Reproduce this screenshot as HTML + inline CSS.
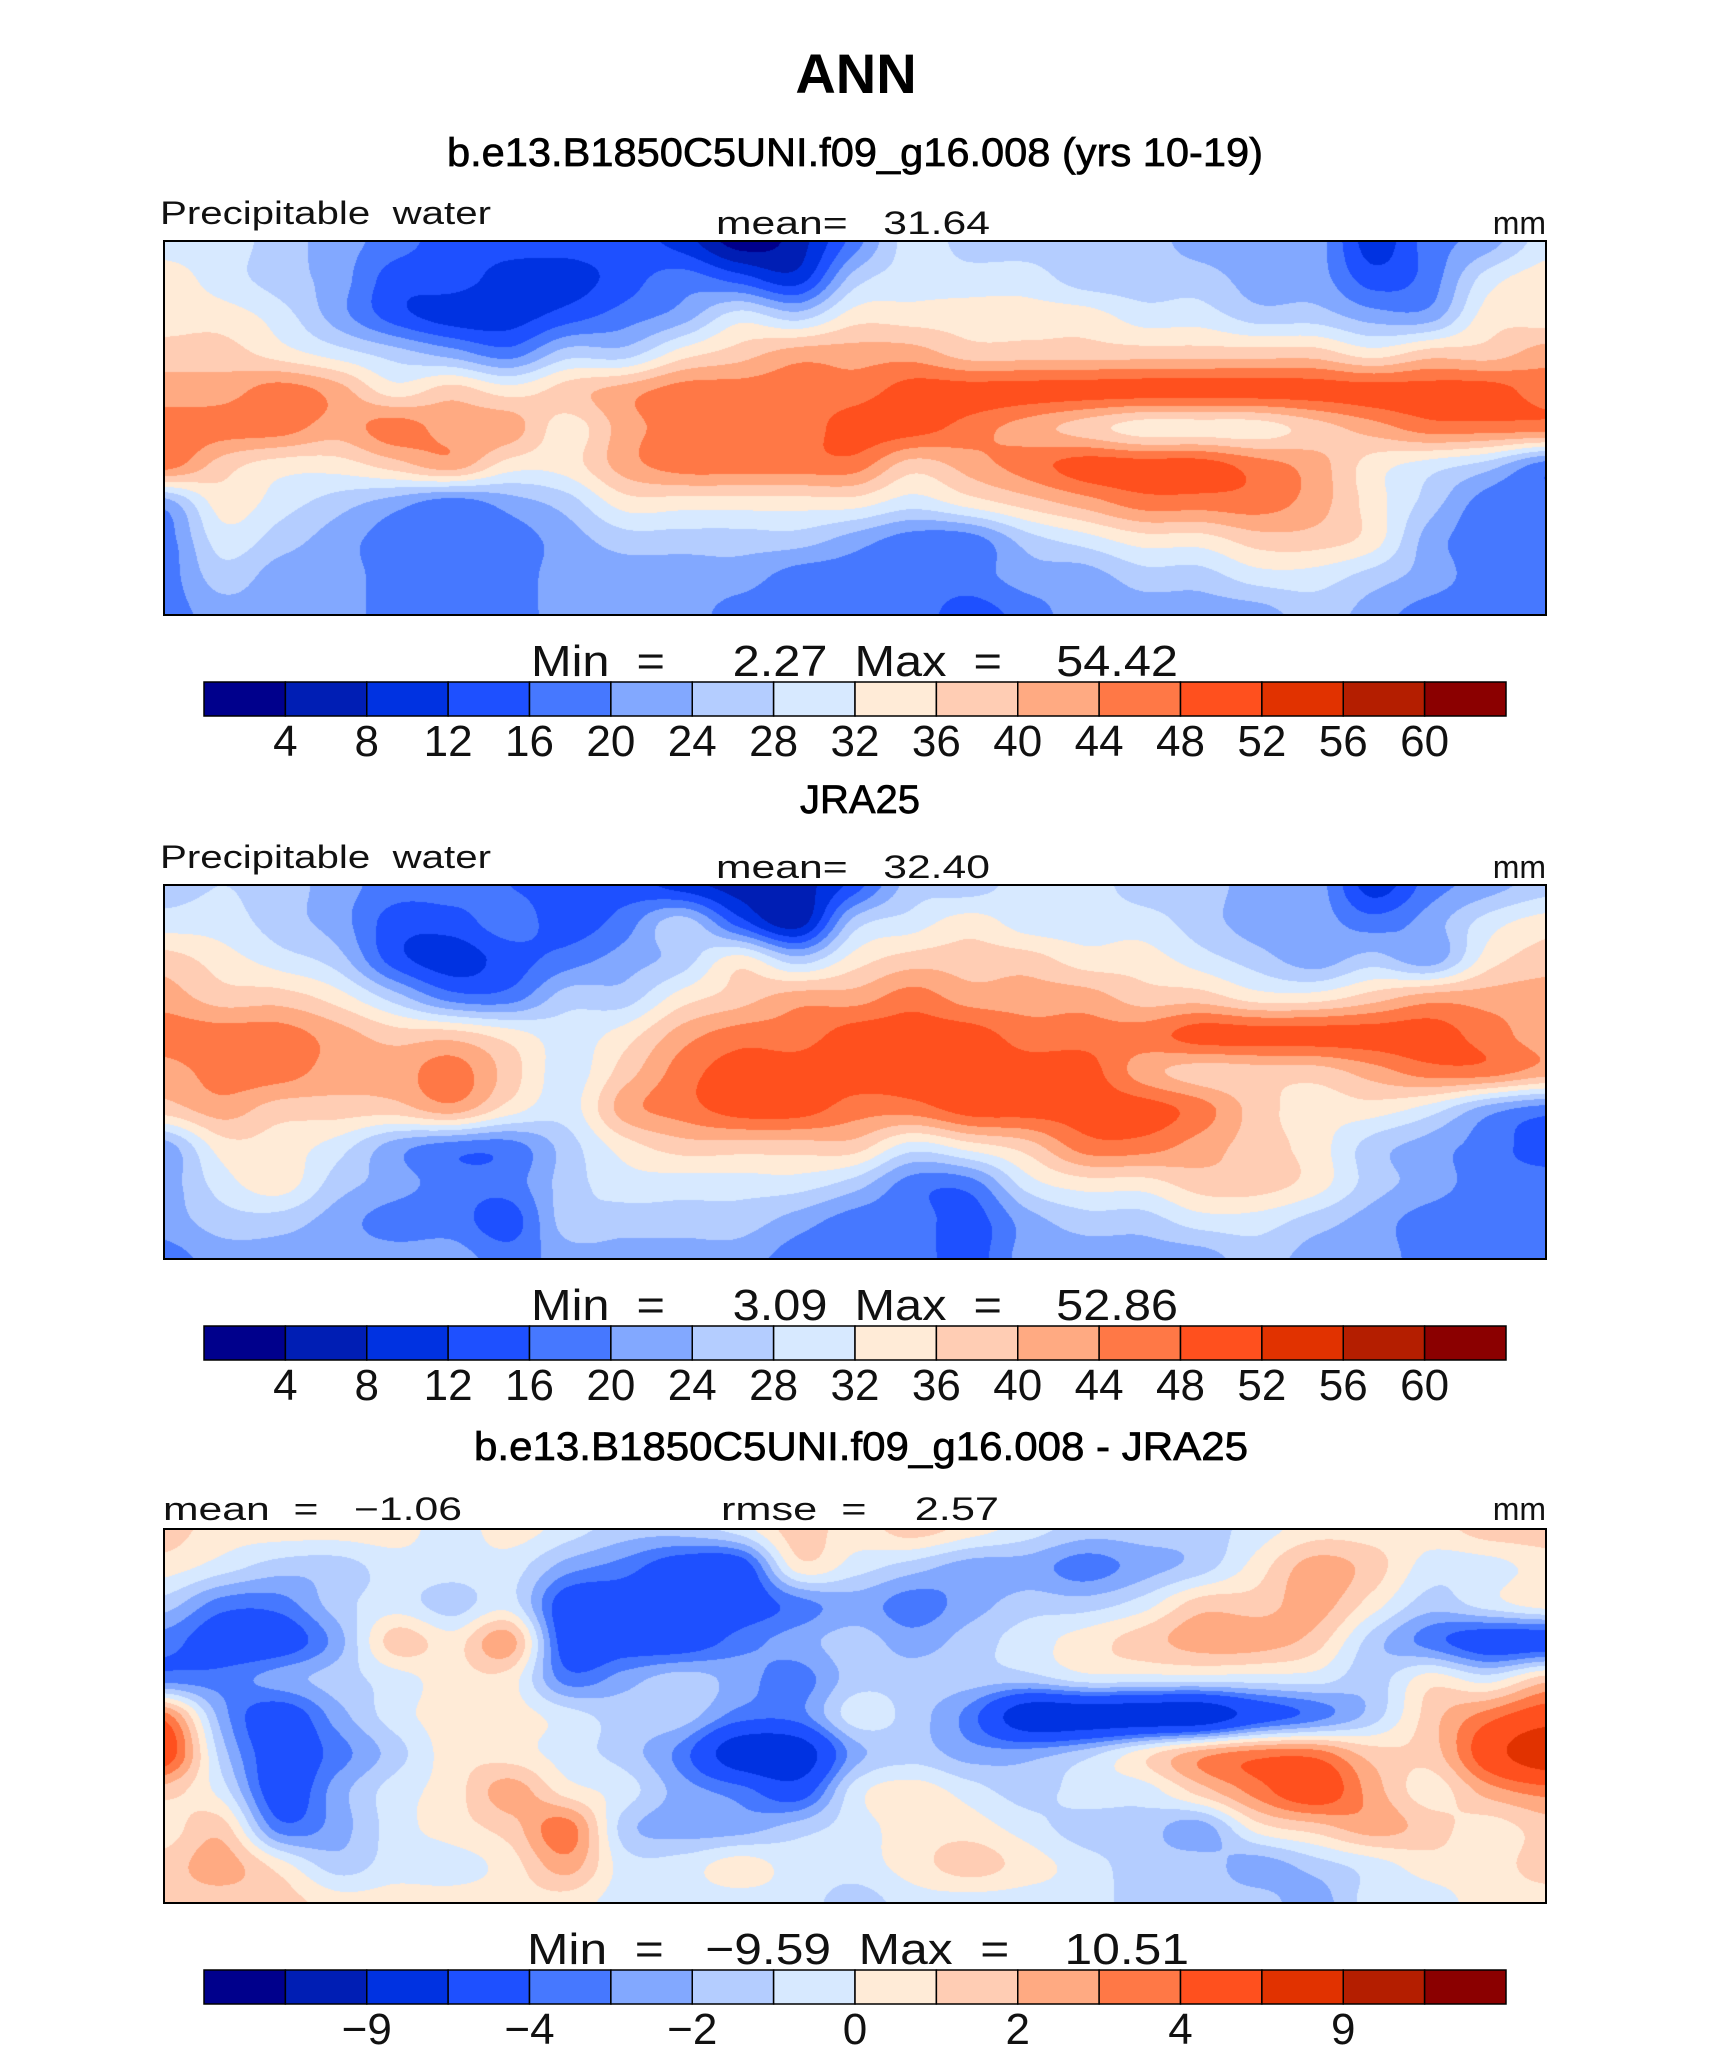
<!DOCTYPE html>
<html><head><meta charset="utf-8"><title>ANN Precipitable water</title>
<style>
html,body{margin:0;padding:0;background:#fff;}
#root{position:relative;width:1710px;height:2051px;overflow:hidden;background:#fff;}
canvas{position:absolute;}
svg{position:absolute;left:0;top:0;}
text{font-family:"Liberation Sans",sans-serif;fill:#000;white-space:pre;}
.sub{stroke:#000;stroke-width:0.7;}
.thin{fill:#111;}
</style></head>
<body>
<div id="root">
<canvas id="map1" width="1382" height="374" style="left:164px;top:241px"></canvas>
<canvas id="map2" width="1382" height="374" style="left:164px;top:885px"></canvas>
<canvas id="map3" width="1382" height="374" style="left:164px;top:1529px"></canvas>
<svg id="ov" width="1710" height="2051" xml:space="preserve">
<text x="856" y="93" font-size="56" font-weight="bold" text-anchor="middle">ANN</text>
<text class="sub" x="447" y="166" font-size="40" textLength="816" lengthAdjust="spacingAndGlyphs">b.e13.B1850C5UNI.f09_g16.008 (yrs 10-19)</text>
<text class="thin" x="160" y="224" font-size="32" textLength="331" lengthAdjust="spacingAndGlyphs">Precipitable  water</text>
<text class="thin" x="716" y="234" font-size="32" textLength="274" lengthAdjust="spacingAndGlyphs">mean=   31.64</text>
<text class="thin" x="1546" y="234" font-size="32" text-anchor="end">mm</text>
<text class="thin" x="531" y="676" font-size="44" textLength="647" lengthAdjust="spacingAndGlyphs">Min  =     2.27  Max  =    54.42</text>

<text class="sub" x="860" y="813" font-size="40" text-anchor="middle">JRA25</text>
<text class="thin" x="160" y="868" font-size="32" textLength="331" lengthAdjust="spacingAndGlyphs">Precipitable  water</text>
<text class="thin" x="716" y="878" font-size="32" textLength="274" lengthAdjust="spacingAndGlyphs">mean=   32.40</text>
<text class="thin" x="1546" y="878" font-size="32" text-anchor="end">mm</text>
<text class="thin" x="531" y="1320" font-size="44" textLength="647" lengthAdjust="spacingAndGlyphs">Min  =     3.09  Max  =    52.86</text>

<text class="sub" x="474" y="1460" font-size="40" textLength="774" lengthAdjust="spacingAndGlyphs">b.e13.B1850C5UNI.f09_g16.008 - JRA25</text>
<text class="thin" x="163" y="1520" font-size="32" textLength="299" lengthAdjust="spacingAndGlyphs">mean  =   −1.06</text>
<text class="thin" x="721" y="1520" font-size="32" textLength="278" lengthAdjust="spacingAndGlyphs">rmse  =    2.57</text>
<text class="thin" x="1546" y="1520" font-size="32" text-anchor="end">mm</text>
<text class="thin" x="527" y="1964" font-size="44" textLength="662" lengthAdjust="spacingAndGlyphs">Min  =   −9.59  Max  =    10.51</text>
<g id="frames"></g>
<g id="bars"></g>
</svg>
</div>
<script>
const colors = ["#00008c","#001eb4","#0032e1","#1e50ff","#4678ff","#82a8ff","#b4cdff","#d7e9ff","#ffebd7","#ffcdb4","#ffaa82","#ff7846","#ff501e","#e13200","#b41e00","#8b0000"];
const meanLevels = [4,8,12,16,20,24,28,32,36,40,44,48,52,56,60];
const meanTickLabels = ["4","8","12","16","20","24","28","32","36","40","44","48","52","56","60"];
const diffLevels = [-12,-9,-6,-4,-3,-2,-1,0,1,2,3,4,6,9,12];
const diffTickLabels = ["","−9","","−4","","−2","","0","","2","","4","","9",""];

// grids: rows 45N -> 45S (9 deg step), columns 70W -> 290E (15 deg step)
const modelGrid = [
[30,30,26,22,18,14,14,14,14,10,2,6,18,30,26,26,26,26,22,22,22,10,18,22,30],
[34,30,26,22,14,14,10,10,14,18,14,10,26,30,30,30,26,26,26,22,22,14,18,30,34],
[34,34,30,22,14,10,10,14,18,22,30,26,34,34,34,34,34,30,30,26,26,22,22,34,34],
[38,38,34,30,26,22,18,26,26,34,38,42,42,42,38,38,38,38,38,38,38,34,38,38,42],
[42,42,46,42,34,38,34,38,42,46,46,46,46,50,50,50,50,50,50,50,50,50,50,50,46],
[46,46,46,42,46,42,42,34,42,46,46,46,50,50,46,42,38,34,34,34,38,42,46,46,46],
[46,38,34,34,38,42,34,34,42,46,46,46,46,38,42,46,50,50,50,46,42,34,30,26,18],
[22,34,30,26,22,18,22,26,34,34,34,34,34,30,34,38,42,46,46,46,42,34,26,18,18],
[18,30,26,22,18,18,18,22,26,26,26,26,22,18,18,26,30,34,34,38,38,34,22,18,18],
[18,26,22,22,18,18,18,22,22,22,22,18,18,18,18,22,22,26,26,30,30,26,22,18,18],
[18,22,22,22,18,18,18,22,22,22,18,18,18,18,14,18,22,22,22,22,26,22,18,18,18]
];
const jraGrid = [
[26,28,26,22,18,18,16,14,14,10,6,6,14,26,26,30,30,26,26,22,22,10,18,22,26],
[30,30,26,22,14,14,18,14,18,26,14,6,26,30,34,30,30,30,26,22,22,18,22,30,34],
[38,34,30,26,14,10,14,18,22,26,34,26,34,38,38,38,34,34,30,26,22,26,22,34,38],
[42,38,38,34,26,18,18,26,26,34,38,42,42,46,42,42,42,38,38,34,34,38,42,42,42],
[46,46,46,42,38,38,34,30,34,42,46,46,50,50,50,46,46,46,50,50,50,50,50,46,42],
[42,46,46,42,42,46,38,30,38,46,50,50,50,50,50,50,50,42,38,38,38,42,46,46,42],
[38,42,38,38,38,42,34,30,42,46,50,50,46,46,50,50,50,50,46,38,34,34,30,22,18],
[22,34,34,30,22,18,18,26,34,38,38,38,38,30,34,38,46,46,42,38,34,26,22,18,14],
[22,30,34,26,22,18,18,26,30,30,30,30,26,18,18,30,34,34,38,38,34,26,22,18,18],
[22,26,26,22,18,18,14,26,26,26,26,22,18,18,14,22,26,26,30,30,26,22,18,18,18],
[18,22,22,22,22,22,18,22,22,22,22,18,18,18,14,22,22,22,22,26,22,22,18,18,18]
];
const diffGrid = [
[1.5,.5,.5,.5,.5,-.5,.5,-.5,-1.5,-1.5,-.5,1.5,.5,1.5,.5,-.5,-1.5,-1.5,-1.5,-.5,.5,.5,.5,1.5,1.5],
[.5,-.5,-1.5,-1.5,-.5,-.5,-.5,-2.5,-3.5,-5,-5,.5,-.5,-1.5,-2.5,-2.5,-3.5,-2.5,-1.5,.5,2.5,1.5,-.5,-.5,.5],
[-1.5,-3.5,-3.5,-1.5,-.5,-1.5,-.5,-5,-5,-5,-5,-3.5,-2.5,-3.5,-2.5,-1.5,-1.5,-.5,1.5,1.5,2.5,.5,-1.5,-.5,.5],
[-3.5,-5,-5,-2.5,1.5,.5,2.5,-5,-5,-5,-3.5,-2.5,-1.5,-2.5,-1.5,-.5,.5,1.5,2.5,2.5,1.5,-1.5,-3.5,-5,-5],
[-3.5,-3.5,-2.5,-1.5,-.5,.5,.5,-3.5,-2.5,-1.5,-2.5,-3.5,-1.5,-1.5,-1.5,-1.5,-.5,-.5,-.5,-.5,-.5,-1.5,.5,-.5,1.5],
[3.5,-2.5,-5,-2.5,-.5,.5,.5,-.5,-1.5,-1.5,-3.5,-3.5,-.5,-1.5,-3.5,-7.5,-7.5,-7.5,-7.5,-5,-3.5,-1.5,1.5,3.5,5],
[5,-1.5,-5,-3.5,-1.5,.5,.5,-.5,-1.5,-3.5,-7.5,-7.5,-2.5,-1.5,-2.5,-2.5,-1.5,.5,2.5,3.5,3.5,1.5,1.5,5,7.5],
[1.5,-.5,-5,-2.5,-.5,.5,2.5,.5,-.5,-2.5,-3.5,-5,-.5,.5,-.5,-1.5,-.5,-.5,1.5,3.5,5,2.5,.5,2.5,3.5],
[.5,1.5,-3.5,-2.5,-.5,.5,1.5,3.5,-1.5,-2.5,-2.5,-1.5,-.5,.5,.5,-.5,-1.5,-1.5,-2.5,.5,1.5,2.5,1.5,.5,1.5],
[1.5,2.5,.5,-1.5,-.5,-.5,.5,2.5,-.5,-.5,.5,-.5,-.5,.5,1.5,.5,-.5,-1.5,-1.5,-2.5,-1.5,-.5,.5,.5,1.5],
[1.5,1.5,1.5,.5,.5,.5,.5,.5,-.5,-.5,-.5,-.5,-1.5,-.5,-.5,-.5,-.5,-1.5,-1.5,-1.5,-2.5,-.5,-.5,.5,.5]
];

function hexToRgb(h){return [parseInt(h.substr(1,2),16),parseInt(h.substr(3,2),16),parseInt(h.substr(5,2),16)];}
const rgb = colors.map(hexToRgb);
function levelIndex(v, levels){let k=0;while(k<levels.length && v>=levels[k])k++;return k;}
function cr(p0,p1,p2,p3,t){return 0.5*((2*p1)+(-p0+p2)*t+(2*p0-5*p1+4*p2-p3)*t*t+(-p0+3*p1-3*p2+p3)*t*t*t);}
function sample(grid,u,v){
  const R=grid.length,C=grid[0].length;
  const i=Math.floor(u),j=Math.floor(v),tu=u-i,tv=v-j;
  const g=(r,c)=>grid[Math.max(0,Math.min(R-1,r))][Math.max(0,Math.min(C-1,c))];
  const rows=[];
  for(let dr=-1;dr<=2;dr++){rows.push(cr(g(j+dr,i-1),g(j+dr,i),g(j+dr,i+1),g(j+dr,i+2),tu));}
  return cr(rows[0],rows[1],rows[2],rows[3],tv);
}
function drawMap(id,grid,levels){
  const cv=document.getElementById(id),ctx=cv.getContext('2d');
  const W=cv.width,H=cv.height,img=ctx.createImageData(W,H);
  const C=grid[0].length-1,R=grid.length-1;
  for(let y=0;y<H;y++){for(let x=0;x<W;x++){
    const v=sample(grid,x/(W-1)*C,y/(H-1)*R);
    const c=rgb[levelIndex(v,levels)],o=(y*W+x)*4;
    img.data[o]=c[0];img.data[o+1]=c[1];img.data[o+2]=c[2];img.data[o+3]=255;}}
  ctx.putImageData(img,0,0);
}
drawMap('map1',modelGrid,meanLevels);
drawMap('map2',jraGrid,meanLevels);
drawMap('map3',diffGrid,diffLevels);

const NS='http://www.w3.org/2000/svg';
const frames=document.getElementById('frames');
[241,885,1529].forEach(function(top,k){
  const r=document.createElementNS(NS,'rect');
  r.setAttribute('x',164);r.setAttribute('y',top);r.setAttribute('width',1382);r.setAttribute('height',374);
  r.setAttribute('fill','none');r.setAttribute('stroke','#000');r.setAttribute('stroke-width','2');
  
  
  frames.appendChild(r);
});
const bars=document.getElementById('bars');
const barX=204,barW=1302,boxW=barW/16;
function drawBar(top,labels,baseline){
  for(let k=0;k<16;k++){
    const r=document.createElementNS(NS,'rect');
    r.setAttribute('x',barX+k*boxW);r.setAttribute('y',top);r.setAttribute('width',boxW);r.setAttribute('height',34);
    r.setAttribute('fill',colors[k]);r.setAttribute('stroke','#000');r.setAttribute('stroke-width','1.5');
    
    
    bars.appendChild(r);
  }
  labels.forEach(function(lab,k){
    if(!lab)return;
    const t=document.createElementNS(NS,'text');
    t.setAttribute('x',barX+(k+1)*boxW);t.setAttribute('y',baseline);
    t.setAttribute('font-size','44');t.setAttribute('text-anchor','middle');
    t.setAttribute('class','thin');
    t.textContent=lab;
    
    
    bars.appendChild(t);
  });
}
drawBar(682,meanTickLabels,756);
drawBar(1326,meanTickLabels,1400);
drawBar(1970,diffTickLabels,2044);
</script>
</body></html>
